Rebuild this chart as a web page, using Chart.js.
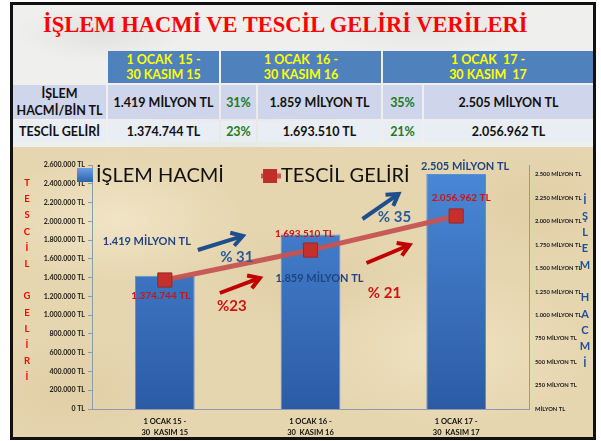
<!DOCTYPE html>
<html>
<head>
<meta charset="utf-8">
<script src="https://cdn.jsdelivr.net/npm/chart.js@4.4.0/dist/chart.umd.min.js"></script>
<style>
html, body { margin: 0; padding: 0; background: #fff; }
body { width: 601px; height: 441px; position: relative; overflow: hidden; font-family: Lato, 'Open Sans', sans-serif; }
#marble {
  position: absolute; left: 13px; top: 5px; width: 580px; height: 142px;
  background:
    radial-gradient(ellipse 120px 40px at 15% 20%, rgba(200,200,200,0.35), transparent 70%),
    radial-gradient(ellipse 160px 50px at 70% 10%, rgba(205,205,205,0.35), transparent 70%),
    radial-gradient(ellipse 200px 60px at 40% 90%, rgba(210,210,210,0.3), transparent 70%),
    #efefed;
}
#parch {
  position: absolute; left: 13px; top: 147px; width: 580px; height: 290px;
  background:
    radial-gradient(ellipse 180px 90px at 18% 25%, rgba(250,240,215,0.55), transparent 70%),
    radial-gradient(ellipse 200px 110px at 75% 70%, rgba(248,236,208,0.5), transparent 70%),
    radial-gradient(ellipse 150px 80px at 50% 45%, rgba(205,180,135,0.25), transparent 70%),
    radial-gradient(ellipse 160px 90px at 90% 20%, rgba(210,185,140,0.25), transparent 70%),
    radial-gradient(ellipse 160px 90px at 10% 85%, rgba(210,185,140,0.25), transparent 70%),
    #e6d6b0;
}
#frame { position: absolute; left: 10px; top: 2px; width: 586px; height: 438px; border: 3px solid #111; box-sizing: border-box; pointer-events: none; }
#title { position: absolute; left: 43px; top: 12px; white-space: nowrap; font: bold 22.5px 'Liberation Serif', serif; color: #ff0000; }
.cell { position: absolute; display: flex; align-items: center; justify-content: center; text-align: center;
        font-weight: bold; font-size: 12.5px; line-height: 15px; color: #111; white-space: pre; }
.head { background: #4f81bd; color: #ffff00; }
.r1 { background: #cfd5ea; }
.r2 { background: #e9edf4; }
.pct { color: #1e7b22; }
</style>
</head>
<body>
<div id="marble"></div>
<div id="parch"><canvas id="chart" width="580" height="290"></canvas></div>
<div id="title">İŞLEM HACMİ VE TESCİL GELİRİ VERİLERİ</div>
<div id="table"></div>
<div id="frame"></div>
<script>
// donnees
const periods = [['1 OCAK 15 -', '30  KASIM 15'], ['1 OCAK 16 -', '30  KASIM 16'], ['1 OCAK 17 -', '30  KASIM 17']];
const headPeriods = ['1 OCAK  15 -\n30 KASIM 15', '1 OCAK  16 -\n30 KASIM 16', '1 OCAK  17 -\n30 KASIM  17'];
const islemHacmi = [1419, 1859, 2505];            // milyon TL
const tescilGeliri = [1374744, 1693510, 2056962]; // TL
const hacimArtis = [31, 35];
const gelirArtis = [23, 21];

// 1234567 -> "1.234.567"
function fmt(v) {
  return String(Math.round(v)).replace(/\B(?=(\d{3})+(?!\d))/g, '.');
}

// tableau du haut
let table = document.getElementById('table');
function cell(cls, x1, x2, y1, y2, html) {
  let d = document.createElement('div');
  d.className = 'cell ' + cls;
  d.style.left = x1 + 'px';
  d.style.top = y1 + 'px';
  d.style.width = (x2 - x1) + 'px';
  d.style.height = (y2 - y1) + 'px';
  d.textContent = html;
  table.appendChild(d);
}
let headCols = [[108, 219], [221, 381], [383, 593]];
headPeriods.forEach((p, i) => cell('head', headCols[i][0], headCols[i][1], 51, 83, p));

cell('r1', 13, 106, 85, 119, 'İŞLEM\nHACMİ/BİN TL');
cell('r2', 13, 106, 121, 142, 'TESCİL GELİRİ');
cell('r1', 108, 219, 85, 119, fmt(islemHacmi[0]) + ' MİLYON TL');
cell('r1 pct', 221, 256, 85, 119, hacimArtis[0] + '%');
cell('r1', 258, 381, 85, 119, fmt(islemHacmi[1]) + ' MİLYON TL');
cell('r1 pct', 383, 422, 85, 119, hacimArtis[1] + '%');
cell('r1', 424, 593, 85, 119, fmt(islemHacmi[2]) + ' MİLYON TL');
cell('r2', 108, 219, 121, 142, fmt(tescilGeliri[0]) + ' TL');
cell('r2 pct', 221, 256, 121, 142, gelirArtis[0] + '%');
cell('r2', 258, 381, 121, 142, fmt(tescilGeliri[1]) + ' TL');
cell('r2 pct', 383, 422, 121, 142, gelirArtis[1] + '%');
cell('r2', 424, 593, 121, 142, fmt(tescilGeliri[2]) + ' TL');
document.querySelectorAll('.cell.r1')[0].style.lineHeight = '17px';

const BLUE_TXT = '#1f4483';
const RED_TXT = '#cc1414';

function arrow(ctx, x1, y1, x2, y2, color) {
  let a = Math.atan2(y2 - y1, x2 - x1), h = 13;
  ctx.save();
  ctx.strokeStyle = color;
  ctx.lineWidth = 4;
  ctx.lineCap = 'butt';
  ctx.beginPath();
  ctx.moveTo(x1, y1);
  ctx.lineTo(x2 - 2 * Math.cos(a), y2 - 2 * Math.sin(a));
  ctx.stroke();
  ctx.beginPath();
  ctx.moveTo(x2 - h * Math.cos(a - 0.55), y2 - h * Math.sin(a - 0.55));
  ctx.lineTo(x2, y2);
  ctx.lineTo(x2 - h * Math.cos(a + 0.55), y2 - h * Math.sin(a + 0.55));
  ctx.stroke();
  ctx.restore();
}

function txt(ctx, s, x, y, size, color, align) {
  ctx.font = 'bold ' + size + 'px Lato, sans-serif';
  ctx.fillStyle = color;
  ctx.textAlign = align || 'center';
  ctx.textBaseline = 'middle';
  ctx.fillText(s, x, y);
}

// legende, titres d'axes verticaux, fleches et etiquettes
const decor = {
  id: 'decor',
  afterDraw(chart) {
    let ctx = chart.ctx;
    let x = chart.scales.x;
    let c = [0, 1, 2].map(i => x.getPixelForValue(i));
    ctx.save();

    // legende
    let g = ctx.createLinearGradient(0, 21, 0, 35);
    g.addColorStop(0, '#6a9fe0');
    g.addColorStop(1, '#2f62ae');
    ctx.fillStyle = g;
    ctx.fillRect(64, 21, 16, 14);
    ctx.font = '20px Lato, sans-serif';
    ctx.fillStyle = '#111';
    ctx.textAlign = 'left';
    ctx.textBaseline = 'middle';
    ctx.fillText(chart.data.datasets[1].label, 83, 29);
    ctx.strokeStyle = '#c55a58';
    ctx.lineWidth = 5;
    ctx.beginPath();
    ctx.moveTo(248, 29);
    ctx.lineTo(268, 29);
    ctx.stroke();
    ctx.fillStyle = '#c0302b';
    ctx.fillRect(250, 22, 14, 14);
    ctx.fillStyle = '#111';
    ctx.fillText(chart.data.datasets[0].label, 268, 29);

    // titres verticaux
    let left = 'TESCİL GELİRİ';
    for (let i = 0; i < left.length; i++) {
      txt(ctx, left[i], 14, 36 + i * 16.2, 9.5, '#ff0000');
    }
    let right = 'İŞLEM HACMİ';
    for (let i = 0; i < right.length; i++) {
      txt(ctx, right[i], 572, 53 + i * 16.3, 11, '#1f4e9a');
    }

    // fleches
    arrow(ctx, c[0] + 33, 103, c[0] + 78, 89, '#1f4e8c');
    arrow(ctx, c[0] + 55, 146, c[0] + 95, 131, '#c00000');
    arrow(ctx, c[1] + 52, 72, c[1] + 88, 47, '#1f4e8c');
    arrow(ctx, c[1] + 56, 116, c[1] + 99, 98, '#c00000');

    // etiquettes
    txt(ctx, fmt(islemHacmi[0]) + ' MİLYON TL', c[0] - 18, 94, 11, BLUE_TXT);
    txt(ctx, fmt(islemHacmi[1]) + ' MİLYON TL', c[1] + 9, 131, 11, BLUE_TXT);
    txt(ctx, fmt(islemHacmi[2]) + ' MİLYON TL', c[2] + 9, 19, 11, BLUE_TXT);
    txt(ctx, fmt(tescilGeliri[0]) + ' TL', c[0] - 4, 149, 10, RED_TXT);
    txt(ctx, fmt(tescilGeliri[1]) + ' TL', c[1] - 6, 87, 10, RED_TXT);
    txt(ctx, fmt(tescilGeliri[2]) + ' TL', c[2] + 5, 51, 10, RED_TXT);
    txt(ctx, '% ' + hacimArtis[0], c[0] + 72, 110, 15, '#2a5a9a');
    txt(ctx, '% ' + hacimArtis[1], c[1] + 84, 70, 15, '#2a5a9a');
    txt(ctx, '%' + gelirArtis[0], c[0] + 67, 159, 15, RED_TXT);
    txt(ctx, '% ' + gelirArtis[1], c[1] + 74, 146, 15, RED_TXT);
    ctx.restore();
  }
};

let ctx = document.getElementById('chart').getContext('2d');
let myChart = new Chart(ctx, {
  data: {
    labels: periods,
    datasets: [{
      type: 'line',
      label: 'TESCİL GELİRİ',
      data: tescilGeliri,
      yAxisID: 'y',
      borderColor: 'rgba(197,84,82,0.95)',
      borderWidth: 5,
      pointStyle: 'rect',
      pointRadius: 10,
      pointBackgroundColor: '#c4302b',
      pointBorderColor: '#9c2724',
      pointBorderWidth: 1,
      tension: 0,
      order: 0
    }, {
      type: 'bar',
      label: 'İŞLEM HACMİ',
      data: islemHacmi,
      yAxisID: 'y1',
      backgroundColor: c => {
        let a = c.chart.chartArea;
        if (!a) return '#3f75c0';
        let g = c.chart.ctx.createLinearGradient(0, a.top, 0, a.bottom);
        g.addColorStop(0, '#4a89d8');
        g.addColorStop(1, '#2c5ba5');
        return g;
      },
      borderColor: '#5f90d0',
      borderWidth: 1,
      categoryPercentage: 1,
      barPercentage: 0.41,
      order: 1
    }]
  },
  options: {
    responsive: false,
    animation: false,
    layout: { padding: { top: 18, left: 0, right: 0, bottom: 0 } },
    plugins: { legend: { display: false }, tooltip: { enabled: false } },
    scales: {
      x: {
        grid: { display: false, drawTicks: false },
        border: { color: '#8e9aae' },
        ticks: { color: '#111', padding: 7, maxRotation: 0, font: { family: 'Lato', weight: 'bold', size: 7.5, lineHeight: 1.45 } },
        afterFit(s) { s.height = 28; }
      },
      y: {
        position: 'left',
        min: 0,
        max: 2600000,
        grid: { drawOnChartArea: false, tickLength: 4, color: '#8e9aae' },
        border: { color: '#8e9aae' },
        ticks: {
          stepSize: 200000, color: '#1a1a1a', padding: 3,
          font: { family: 'Lato', weight: 'bold', size: 7 },
          callback: v => fmt(v) + ' TL'
        },
        afterFit(s) { s.width = 79; }
      },
      y1: {
        position: 'right',
        min: 0,
        max: 2600,
        grid: { display: false, drawTicks: false },
        border: { color: '#8e9aae' },
        ticks: {
          stepSize: 250, includeBounds: false, color: '#1a1a1a', padding: 6,
          font: { family: 'Lato', weight: 'bold', size: 5.8 },
          callback: v => v === 0 ? 'MİLYON TL' : fmt(v) + ' MİLYON TL'
        },
        afterFit(s) { s.width = 64; }
      }
    }
  },
  plugins: [decor]
});
</script>
</body>
</html>
